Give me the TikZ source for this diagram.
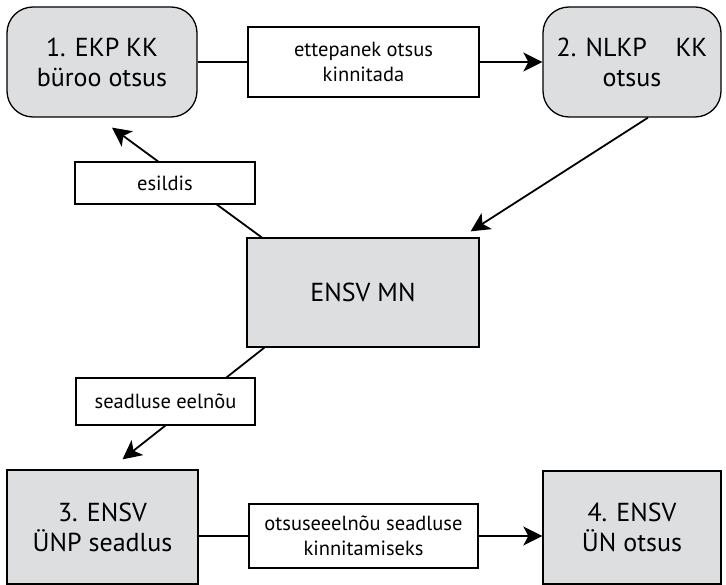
\documentclass[tikz,border=0pt]{standalone}
\usepackage{fontspec}
\setmainfont{PT Sans}
\usetikzlibrary{arrows.meta,backgrounds,calc}
\definecolor{boxgray}{RGB}{221,222,223}

\begin{document}
\begin{tikzpicture}[x=1pt, y=-1pt,
  every node/.style={draw, line width=1.3pt, align=center, inner sep=0pt},
  kkbox/.style={fill=boxgray, font=\fontsize{26}{30}\selectfont, rounded corners=26pt,
    minimum width=190pt, minimum height=110pt},
  ensvbox/.style={fill=boxgray, font=\fontsize{26}{30}\selectfont},
  lab/.style={fill=white, font=\fontsize{20.5}{25}\selectfont},
  conn/.style={line width=1.8pt},
  arr/.style={conn, -{Stealth[length=19pt, width=19pt, inset=5pt]}}
]
\useasboundingbox (0,0) rectangle (726,585);

\node[kkbox] (ekp) at (102,62) {1. EKP KK\\büroo otsus};
\node[lab, minimum width=231pt, minimum height=70pt] (ettep) at (363.5,62) {ettepanek otsus\\kinnitada};
\node[kkbox, minimum width=178pt] (nlkp) at (632,62) {2. NLKP\hspace{1.1em}KK\\otsus};
\node[lab, minimum width=180pt, minimum height=42pt] (esil) at (165,183) {esildis};
\node[ensvbox, minimum width=232pt, minimum height=109pt] (mn) at (363,292.5) {ENSV MN};
\node[lab, minimum width=179pt, minimum height=47pt] (seadl) at (165.5,401.5) {seadluse eelnõu};
\node[ensvbox, minimum width=191pt, minimum height=114pt] (unp) at (102.5,527) {3. ENSV\\ÜNP seadlus};
\node[lab, minimum width=229pt, minimum height=64pt] (otsus) at (363.5,536) {otsuseeelnõu seadluse\\kinnitamiseks};
\node[ensvbox, minimum width=178pt, minimum height=113pt] (un) at (632,527.5) {4. ENSV\\ÜN otsus};

% end points of the slanted arrows
\coordinate (esil-a) at ($(mn.north west)+(18,2)$);
\coordinate (esil-b) at ($(ekp.south)+(10,10)$);
\coordinate (nlkp-a) at ($(nlkp.south)+(16,0)$);
\coordinate (nlkp-b) at ($(mn.north east)+(-9,-6)$);
\coordinate (seadl-a) at ($(mn.south west)+(18,0)$);
\coordinate (seadl-b) at ($(unp.north)+(20,-10)$);

\begin{scope}[on background layer]
\draw[conn] (ekp) -- (ettep);
\draw[arr] (ettep) -- (nlkp);
\draw[arr] (esil-a) -- (esil-b);
\draw[arr] (nlkp-a) -- (nlkp-b);
\draw[arr] (seadl-a) -- (seadl-b);
\draw[conn] (unp.east |- otsus) -- (otsus);
\draw[arr] (otsus) -- (un.west |- otsus);
\end{scope}
\end{tikzpicture}
\end{document}
